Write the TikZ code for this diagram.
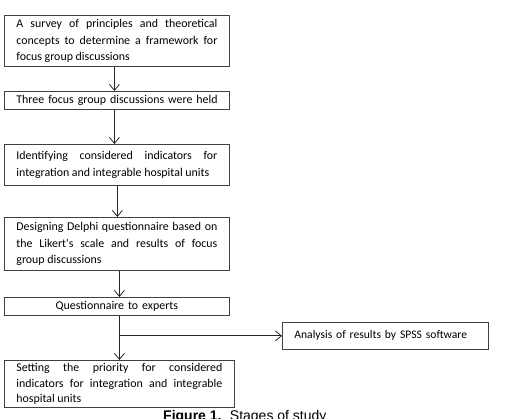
\documentclass[tikz,border=0pt]{standalone}
\usepackage{fontspec}
\setmainfont{Carlito}
\newfontfamily\capfont{Liberation Sans}
\usetikzlibrary{arrows.meta}
\hyphenpenalty=10000
\exhyphenpenalty=10000
\begin{document}
\begin{tikzpicture}[x=1pt,y=-1pt,
  box/.style={draw=black!75, line width=0.8pt, anchor=north west, inner xsep=12pt, inner ysep=4pt,
    align=justify, font=\fontsize{11.9}{16.5}\selectfont},
  arr/.style={draw=black!85, line width=0.8pt, -{Straight Barb[length=6pt,width=10pt]}},
  ln/.style={draw=black!85, line width=0.8pt}]
\useasboundingbox (0,0) rectangle (507,419);
\node[box, text width=201pt, minimum height=51pt] (b1) at (4,15)
  {A survey of principles and theoretical concepts to determine a framework for focus group discussions};
\node[box, text width=201pt, minimum height=18pt, inner ysep=2pt, align=left] (b2) at (4,91)
  {\makebox[201pt][l]{Three focus group discussions were held}};
\node[box, text width=201pt, minimum height=41pt] (b3) at (4,144)
  {Identifying considered indicators for integration and integrable hospital units};
\node[box, text width=201pt, minimum height=53pt] (b4) at (4,217)
  {Designing Delphi questionnaire based on the Likert\textquotesingle s scale and results of focus\linebreak group discussions};
\node[box, text width=201pt, minimum height=18pt, inner ysep=2pt, align=center] (b5) at (4,297)
  {Questionnaire to experts};
\node[box, text width=182pt, minimum height=27pt, align=left, font=\fontsize{11.6}{14}\selectfont] (b6) at (282,322)
  {Analysis of results by SPSS software};
\node[box, text width=206pt, minimum height=47pt, inner ysep=1.5pt, font=\fontsize{11.9}{15.6}\selectfont] (b7) at (4,360)
  {Setting the priority for considered indicators for integration and integrable hospital units};
\node[anchor=base west, inner sep=0pt, font=\capfont\fontsize{14}{16}\selectfont] (cap) at (163,421)
  {\textbf{Figure 1.}\hspace{0.6em}Stages of study};
\draw[arr] ([xshift=-2.5pt]b1.south) -- ([xshift=-2.5pt]b2.north);
\draw[arr] ([xshift=-2.5pt]b2.south) -- ([xshift=-2.5pt]b3.north);
\draw[arr] ([xshift=0.5pt]b3.south) -- ([xshift=0.5pt]b4.north);
\draw[arr] ([xshift=2.5pt]b4.south) -- ([xshift=2.5pt]b5.north);
\path ([xshift=2.5pt]b5.south) coordinate (t5);
\coordinate (j) at (t5 |- b6.west);
\draw[ln] (t5) -- (j);
\draw[arr] (j) -- (b6.west);
\draw[arr] (j) -- (j |- b7.north);
\end{tikzpicture}
\end{document}
